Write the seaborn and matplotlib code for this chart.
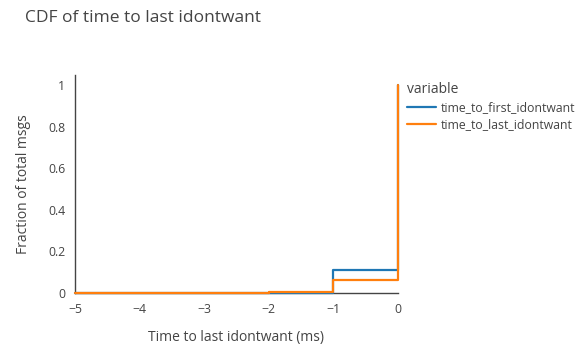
import matplotlib
matplotlib.use("Agg")
import matplotlib.pyplot as plt
import seaborn as sns
import pandas as pd

# step CDF values (x in ms)
x_ms       = [-5, -4, -3, -2, -1, 0]
first_cdf  = [0.0, 0.0, 0.0, 0.0, 0.113, 1.0]
last_cdf   = [0.001, 0.001, 0.002, 0.005, 0.062, 1.0]
series     = ["time_to_first_idontwant", "time_to_last_idontwant"]
colors     = ["#1f77b4", "#ff7f0e"]
y_ticks    = [0, 0.2, 0.4, 0.6, 0.8, 1]
y_labels   = ["0", "0.2", "0.4", "0.6", "0.8", "1"]

df = pd.DataFrame({
    "x": x_ms + x_ms,
    "value": first_cdf + last_cdf,
    "variable": [series[0]] * len(x_ms) + [series[1]] * len(x_ms),
})

sns.set_style("white")
plt.rcParams["font.family"] = ["Open Sans", "DejaVu Sans"]
TXT = "#444444"

fig = plt.figure(figsize=(5.8, 3.58), dpi=100)
ax = fig.add_axes([75 / 580, 65 / 358, 323 / 580, 218 / 358])

sns.lineplot(
    data=df, x="x", y="value", hue="variable", palette=colors,
    drawstyle="steps-post", linewidth=1.6, ax=ax, legend=True,
)
for ln in ax.get_lines():
    ln.set_clip_on(False)

ax.set_xlim(-5, 0)
ax.set_ylim(0, 1.05)
ax.set_yticks(y_ticks)
ax.set_yticklabels(y_labels)
ax.set_xticks(x_ms)

for side in ["top", "right"]:
    ax.spines[side].set_visible(False)
for side in ["left", "bottom"]:
    ax.spines[side].set_color(TXT)
    ax.spines[side].set_linewidth(1)
    ax.spines[side].set_zorder(0.5)
ax.tick_params(axis="both", direction="out", length=5, width=1,
               color=TXT, labelcolor=TXT, labelsize=8.8, pad=2)

ax.set_xlabel("Time to last idontwant (ms)", fontsize=10, color=TXT, labelpad=10)
ax.set_ylabel("Fraction of total msgs", fontsize=10, color=TXT, labelpad=12)

fig.text(25 / 580, 1 - 18 / 358, "CDF of time to last idontwant",
         fontsize=12.5, color=TXT, ha="left", va="center")

leg = ax.legend(
    title="variable", frameon=False, loc="upper left",
    bbox_to_anchor=(402 / 580, 1 - 77 / 358), bbox_transform=fig.transFigure,
    fontsize=8.8, title_fontsize=10, handlelength=2.4, handletextpad=0.4,
    labelspacing=0.35, borderaxespad=0,
)
leg._legend_box.align = "left"
for t in leg.get_texts():
    t.set_color(TXT)
leg.get_title().set_color(TXT)

fig.savefig("out.png", dpi=100)
plt.close(fig)
